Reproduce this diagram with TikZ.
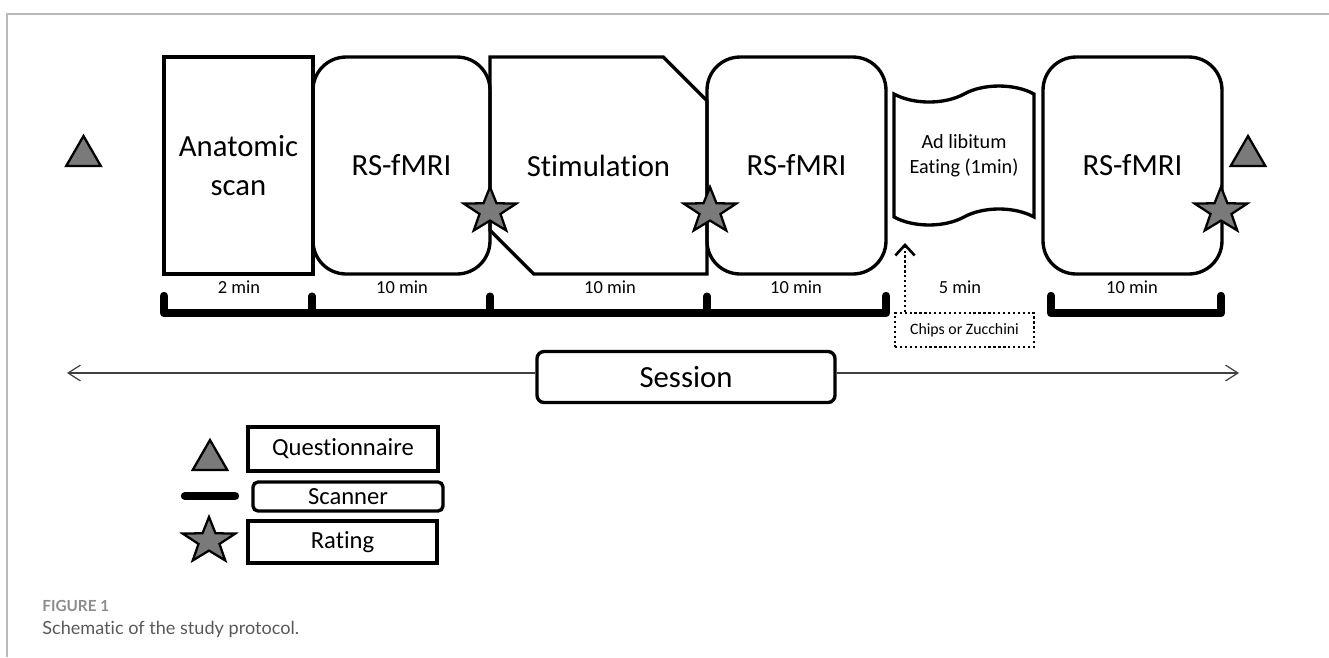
\documentclass[tikz,border=0pt]{standalone}
\usepackage{fontspec}
\setmainfont{Carlito}[Ligatures=NoCommon]
\newfontfamily\captionfont{Lato}[Ligatures=NoCommon]
\usetikzlibrary{shapes.geometric, shapes.misc, shapes.symbols, arrows.meta}

\tikzset{
	ratingstar/.pic={
		\draw[line width=1.3pt, fill=black!52, line join=miter, xscale=1.15]
		(-90:24) -- (-54:9.6) -- (-18:24) -- (18:9.6) -- (54:24) -- (90:9.6)
		-- (126:24) -- (162:9.6) -- (198:24) -- (234:9.6) -- cycle;
	}
}

\begin{document}
\begin{tikzpicture}[x=0.02cm, y=-0.02cm,
		blk/.style={draw, line width=1.9pt, inner sep=0pt, minimum height=4.34cm, align=center, font=\fontsize{17.5}{22}\selectfont},
		rsbox/.style={blk, rounded corners=0.66cm},
		dur/.style={font=\fontsize{10.5}{12}\selectfont},
		qmark/.style={regular polygon, regular polygon sides=3, draw, line width=1.3pt, fill=black!52, inner sep=0pt, minimum size=0.8cm},
		bar/.style={line width=4.8pt, line cap=round, line join=round},
		legbox/.style={draw, line width=1.9pt, inner sep=0pt, font=\fontsize{14}{16}\selectfont},
		dots/.style={line width=1.3pt, dash pattern=on 1.3pt off 1.5pt}]
	\useasboundingbox (0,0) rectangle (1329,657);
	\draw[gray!55, line width=0.8pt] (7,657) -- (7,14) -- (1329,14);

	% blocks of the session
	\node[blk, minimum width=2.98cm] (anat) at (238.5,165.5) {Anatomic\\scan};
	\node[rsbox, minimum width=3.54cm] (rs1) at (401.5,165.5) {RS-fMRI};
	\node[blk, chamfered rectangle, chamfered rectangle corners={north east, south west},
		chamfered rectangle xsep=0.7cm, chamfered rectangle ysep=0.66cm,
		minimum width=4.34cm] (stim) at (598.5,165.5) {Stimulation};
	\node[rsbox, minimum width=3.58cm] (rs2) at (796.5,165.5) {RS-fMRI};
	\node[tape, draw, line width=1.9pt, inner sep=0pt, minimum width=2.8cm, minimum height=2.78cm,
		tape bend height=0.32cm, align=center, font=\fontsize{11.5}{14.5}\selectfont] (eat) at (964,155.5) {Ad libitum\\Eating (1min)};
	\node[rsbox, minimum width=3.58cm] (rs3) at (1132.5,165.5) {RS-fMRI};

	% questionnaires and ratings
	\node[qmark] (q1) at (83.5,156) {};
	\node[qmark] (q2) at (1248,156) {};
	\foreach \x in {490,710,1221}
		\pic at (\x,211) {ratingstar};

	% durations
	\node[dur] (d1) at (239,287) {2 min};
	\node[dur] (d2) at (402,287) {10 min};
	\node[dur] (d3) at (610,287) {10 min};
	\node[dur] (d4) at (796,287) {10 min};
	\node[dur] (d5) at (960,287) {5 min};
	\node[dur] (d6) at (1132,287) {10 min};

	% scanner bars
	\draw[bar] (164,296) -- (164,313) -- (886,313) -- (886,296);
	\foreach \x in {312,490,707}
		\draw[bar, line width=4pt] (\x,296) -- (\x,313);
	\draw[bar] (1051,296) -- (1051,313) -- (1221,313) -- (1221,296);

	% snack
	\node[draw, dots, minimum width=2.78cm, minimum height=0.68cm, inner sep=0pt,
		font=\fontsize{9}{10}\selectfont] (chips) at (964.5,330) {Chips or Zucchini};
	\coordinate (eatin) at (905,243);
	\draw[dots, -{Straight Barb[length=6pt, width=11pt, line width=1.5pt]}] (chips.north -| eatin) -- (eatin);

	% session
	\node[draw, line width=1.9pt, rounded corners=0.14cm, minimum width=5.96cm, minimum height=1.02cm,
		font=\fontsize{17.5}{20}\selectfont] (session) at (686,377) {Session};
	\coordinate (sl) at (67,373);
	\coordinate (sr) at (1239,373);
	\draw[black!75, line width=0.7pt, -{Straight Barb[length=7pt, width=9pt]}] (session.west |- sl) -- (sl);
	\draw[black!75, line width=0.7pt, -{Straight Barb[length=7pt, width=9pt]}] (session.east |- sr) -- (sr);

	% legend
	\node[qmark] (qleg) at (210,460) {};
	\draw[bar] (185,496) -- (235,496);
	\pic at (209,541) {ratingstar};
	\node[legbox, minimum width=3.8cm, minimum height=0.88cm] (lq) at (343,449) {Questionnaire};
	\node[legbox, rounded corners=0.1cm, minimum width=3.8cm, minimum height=0.58cm] (ls) at (348,496.5) {Scanner};
	\node[legbox, minimum width=3.78cm, minimum height=0.84cm] (lr) at (342.5,542) {Rating};

	% caption
	\node[anchor=west, inner sep=0pt, text=black!45, font=\captionfont\bfseries\fontsize{8.7}{10}\selectfont] (fig) at (42,606) {FIGURE 1};
	\node[anchor=west, inner sep=0pt, text=black!65, font=\captionfont\fontsize{10.3}{12}\selectfont] (cap) at (42,629) {Schematic of the study protocol.};
\end{tikzpicture}
\end{document}
